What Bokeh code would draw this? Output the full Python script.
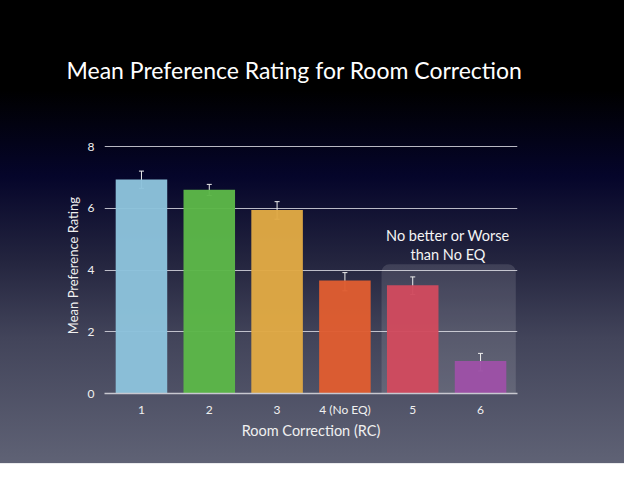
from bokeh.plotting import figure
from bokeh.models import (ColumnDataSource, FactorRange, Range1d, Whisker, TeeHead,
                          BoxAnnotation, Label, FixedTicker)
from bokeh.embed import file_html
from bokeh.resources import INLINE

# ---- data ----
categories = ["1", "2", "3", "4 (No EQ)", "5", "6"]
mean_rating = [6.94, 6.61, 5.95, 3.66, 3.51, 1.05]
err_upper = [7.21, 6.78, 6.22, 3.92, 3.78, 1.30]
err_lower = [6.65, 6.42, 5.65, 3.33, 3.21, 0.73]
bar_colors = ["#8cc2db", "#5cb748", "#e0a944", "#df5d31", "#cf4a5e", "#9d51a6"]
y_ticks = [0, 2, 4, 6, 8]
title_text = "Mean Preference Rating for Room Correction"
x_title = "Room Correction (RC)"
y_title = "Mean Preference Rating"
note_lines = ["No better or Worse", "than No EQ"]
slide_number = "17"

FONT = "Lato"

src = ColumnDataSource(dict(cat=categories, val=mean_rating, up=err_upper,
                            lo=err_lower, color=bar_colors))

p = figure(width=624, height=476, output_backend="svg", toolbar_location=None,
           x_range=FactorRange(*categories, range_padding=0.015),
           y_range=Range1d(0, 8.3),
           min_border_left=104, min_border_right=107, min_border_top=137,
           min_border_bottom=83)
p.styles = {"background": "linear-gradient(to bottom, #000000 0%, #000000 19%, "
            "#05052a 37%, #24253f 55%, #42445a 71%, #5f6275 97.2%, #ffffff 97.4%)"}
p.background_fill_alpha = 0
p.border_fill_alpha = 0
p.outline_line_color = None

# title
p.title.text = title_text
p.title.text_color = "#ffffff"
p.title.text_font = FONT
p.title.text_font_size = "23px"
p.title.text_font_style = "normal"
p.title.align = "left"
p.title.offset = -38
p.title.vertical_align = "middle"
p.title.standoff = 106

# grid
p.xgrid.grid_line_color = None
p.ygrid.grid_line_color = "#d8d8e0"
p.ygrid.grid_line_alpha = 0.85
p.ygrid.grid_line_width = 1
p.yaxis.ticker = FixedTicker(ticks=y_ticks)

# highlight box
box = BoxAnnotation(left=4.04, right=6.02, bottom=-0.3, top=4.19,
                    fill_color="#ffffff", fill_alpha=0.12, line_color=None,
                    border_radius=8, level="underlay")
p.add_layout(box)

p.vbar(x="cat", top="val", width=0.76, source=src, fill_color="color",
       line_color=None, fill_alpha=0.97)

wh = Whisker(base="cat", upper="up", lower="lo", source=src,
             line_color="#eeeeee", line_width=1,
             upper_head=TeeHead(size=5, line_color="#eeeeee", line_width=1),
             lower_head=TeeHead(size=5, line_color="#eeeeee", line_width=1))
p.add_layout(wh)

# axes
for ax in (p.xaxis, p.yaxis):
    ax.major_tick_line_color = None
    ax.minor_tick_line_color = None
    ax.major_tick_out = 0
    ax.major_tick_in = 0
    ax.major_label_text_color = "#f0f0f0"
    ax.major_label_text_font = FONT
    ax.major_label_text_font_size = "12px"
    ax.axis_label_text_color = "#f0f0f0"
    ax.axis_label_text_font = FONT
    ax.axis_label_text_font_style = "normal"
    ax.axis_label_text_font_size = "14.5px"

p.yaxis.axis_line_color = None
p.yaxis.major_label_standoff = 10
p.yaxis.axis_label = y_title
p.yaxis.axis_label_text_font_size = "13px"
p.yaxis.axis_label_standoff = 4

p.xaxis.axis_line_color = "#c8c8d0"
p.xaxis.axis_line_width = 1.5
p.xaxis.major_label_standoff = 8
p.xaxis.axis_label = x_title
p.xaxis.axis_label_standoff = 2

# note
p.add_layout(Label(x=5.02, y=5.12, text=note_lines[0], text_color="#f4f4f4",
                   text_font=FONT, text_font_size="14.5px", text_align="center",
                   text_baseline="middle"))
p.add_layout(Label(x=5.02, y=4.52, text=note_lines[1], text_color="#f4f4f4",
                   text_font=FONT, text_font_size="14.5px", text_align="center",
                   text_baseline="middle"))
p.add_layout(Label(x=7.48, y=-2.5, text=slide_number, text_color="#555555",
                   text_font=FONT, text_font_size="8px", text_align="center",
                   text_baseline="middle"))

open("out.html", "w").write(file_html(p, INLINE))
